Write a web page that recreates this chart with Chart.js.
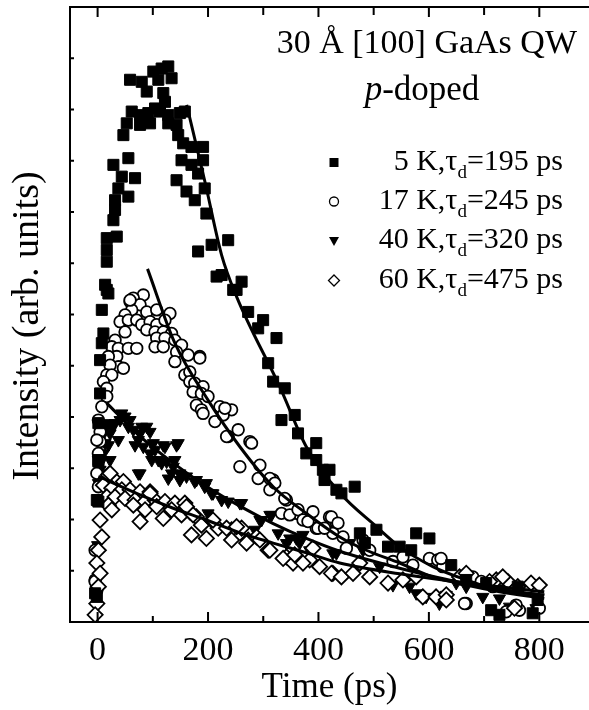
<!DOCTYPE html>
<html>
<head>
<meta charset="utf-8">
<script src="https://cdn.jsdelivr.net/npm/chart.js@4.4.1/dist/chart.umd.min.js"></script>
<style>
  html, body { margin: 0; padding: 0; background: #fff; overflow: hidden; }
  #wrap { position: relative; width: 589px; height: 710px; }
  canvas { display: block; }
</style>
</head>
<body>
<div id="wrap"><canvas id="chart" width="589" height="710"></canvas></div>
<script>
// axis ticks
const xTicks = [0, 200, 400, 600, 800];
const xMinorTicks = [100, 300, 500, 700];
const yTicks = [1, 2, 3, 4, 5, 6, 7, 8, 9, 10, 11];

// 5 K (filled squares)
const t5K = [-4.5, -1.4, -1.4, 1.4, 1.4, 1.4, 1.4, 4.5, 4.5, 7.6,
  10.5, 7.6, 13.6, 19.5, 16.6, 16.6, 16.6, 34.7, 16.6, 28.6,
  31.6, 31.6, 55.7, 37.6, 43.8, 67.8, 28.6, 55.7, 46.7, 52.8,
  76.9, 95, 61.8, 76.9, 91.9, 104, 113, 128, 58.8, 79.9,
  89, 100.9, 116, 128, 134, 110, 119, 122, 149, 158,
  128, 143, 146, 155, 170, 191, 152, 170, 191, 182,
  143, 161, 176, 194, 197, 182, 206.5, 236.5, 215.5, 224.6,
  245.6, 260.8, 251.7, 272.7, 299.8, 290.8, 324, 308.9, 317.9, 339,
  333, 357, 363, 378, 396, 396, 408, 420, 411, 432.5,
  441.6, 465.6, 475, 505, 484, 526, 547, 568, 577, 601,
  640.5, 667.6, 703.8, 712.8, 727.8, 761, 788, 797];
const i5K = [0.56, 0.49, 2.38, 2.35, 3.13, 3.16, 3.88, 4.46, 5.11, 5.44,
  5.63, 6.09, 6.58, 6.41, 6.48, 7.03, 7.26, 7.52, 7.49, 7.84,
  8.04, 8.23, 8.30, 8.46, 8.69, 8.66, 8.92, 9.05, 9.50, 9.73,
  9.70, 9.73, 9.96, 9.89, 9.93, 10.02, 9.96, 9.89, 10.58, 10.54,
  10.35, 10.74, 10.80, 10.84, 10.61, 10.58, 10.32, 10.15, 9.93, 9.96,
  9.73, 9.70, 9.50, 9.34, 9.27, 9.27, 9.01, 8.92, 9.01, 8.75,
  8.62, 8.40, 8.23, 8.46, 7.97, 7.23, 7.36, 7.45, 6.74, 6.77,
  6.48, 6.64, 6.48, 6.05, 5.89, 5.73, 5.54, 5.05, 4.69, 4.56,
  3.94, 4.04, 3.68, 3.29, 3.49, 3.16, 2.97, 2.97, 2.77, 2.58,
  2.51, 2.64, 1.73, 1.80, 1.54, 1.47, 1.47, 1.40, 1.73, 1.63,
  1.11, 0.82, 0.76, 0.23, 0.14, 0.69, 0.17, 0.43];

// 17 K (open circles)
const t17K = [82.8, 64.7, 58.8, 76.9, 61.8, 89, 107, 131, 49.7, 40.7,
  55.7, 70.9, 79.9, 95, 107, 122, 49.7, 89, 104, 119,
  134, 107, 122, 140, 31.6, 25.7, 37.6, 55.7, 70.9, 104,
  119, 152, 143, 34.7, 19.5, 164, 185, 140, 37.6, 46.7,
  22.6, 16.6, 25.7, 158, 167, 10.5, 167, 176, 191, 16.6,
  173, 188, 200, 16.6, 7.6, 179, 188, 221.5, 242.7, 191,
  212.5, 1.4, 227.5, 254.6, 236.5, 275.8, 4.5, 4.5, 58.8, 185,
  230.6, 257.7, 233.6, 278.8, 290.8, 312, 293.9, 318, 342, 360,
  378, 396, 420, 432.5, 426, 312, 321, 339, 333, 348,
  363, 372, 390, 381, 399, 411, 423.5, 435.4, 444.5, 450.6,
  480.7, 492.8, 535, 553, 571, 601, 616, 625, 667.6, 622,
  679.6, 694.8, 664.6, 733.8, 764, 740, 758, 800, 715.7, -1.4,
  -1.4, 1.4, -4.5, -4.5, -1.4, 1.4, -4.5];
const i17K = [6.38, 6.32, 6.25, 6.19, 6.09, 6.05, 6.09, 6.02, 5.99, 5.86,
  5.89, 5.89, 5.80, 5.86, 5.80, 5.89, 5.66, 5.70, 5.66, 5.66,
  5.63, 5.54, 5.54, 5.50, 5.50, 5.37, 5.34, 5.34, 5.34, 5.37,
  5.37, 5.40, 5.27, 5.18, 5.18, 5.21, 5.18, 5.08, 4.98, 4.95,
  5.01, 4.82, 4.82, 4.82, 4.88, 4.69, 4.69, 4.66, 4.59, 4.56,
  4.49, 4.46, 4.40, 4.40, 4.20, 4.23, 4.14, 4.20, 4.14, 4.07,
  3.91, 3.94, 4.04, 3.75, 3.62, 3.52, 3.71, 3.52, 6.28, 5.15,
  4.17, 3.03, 3.62, 3.49, 2.80, 2.58, 3.06, 2.77, 2.38, 2.12,
  1.99, 1.83, 2.05, 1.93, 1.73, 2.80, 2.71, 2.41, 2.12, 2.09,
  2.19, 1.99, 2.15, 1.96, 1.83, 1.83, 2.05, 1.93, 1.66, 1.44,
  1.60, 1.40, 1.18, 1.27, 1.11, 1.24, 1.21, 1.08, 0.36, 1.24,
  0.88, 0.79, 0.36, 0.82, 0.23, 0.20, 0.33, 0.27, 0.69, 3.55,
  2.90, 2.64, 1.40, 0.82, 0.62, 3.29, 0.79];

// 40 K (filled down triangles)
const t40K = [1.4, 7.6, 13.6, 22.6, 10.5, 4.5, 1.4, 7.6, 22.6, 19.5,
  25.7, 13.6, 31.6, 43.8, 40.7, 49.7, 55.7, 58.8, 64.7, 76.9,
  79.9, 89, 95, 73.8, 82.8, 100.9, 122, 143, 95, 110,
  125, 137, 149, 161, 179, 197, 209, 224.6, 236.5, 257.7,
  73.8, 128, 149, 200, 293.9, 312, 284.8, 342, 360, 384,
  426, 119, 146, 19.5, 37.6, 67.8, 104, 98, 116, 140,
  76.9, 134, 152, 176, 194, 206.5, 260.8, 297, 315, 327,
  348, 372, 366, 390, 432.5, 456.6, 480.7, 510.8, 534.9, 565,
  577, 595, 619, 649.5, 667.6, 631.5, 697.6, 727.8, 794, 746,
  -3, -1.4, 0];
const i40K = [3.16, 3.62, 3.49, 3.68, 3.29, 2.97, 2.71, 3.16, 3.16, 3.88,
  3.81, 3.81, 3.88, 4.07, 3.94, 4.01, 3.81, 3.94, 3.75, 3.68,
  3.81, 3.81, 3.71, 3.55, 3.42, 3.49, 3.42, 3.45, 3.29, 3.16,
  3.13, 3.03, 2.90, 2.84, 2.77, 2.71, 2.51, 2.38, 2.35, 2.32,
  2.90, 2.80, 2.77, 2.12, 1.99, 2.09, 1.80, 1.54, 1.63, 1.40,
  1.34, 3.45, 3.49, 3.45, 3.55, 3.45, 3.36, 3.16, 3.10, 3.16,
  2.90, 2.90, 2.84, 2.74, 2.64, 2.51, 2.32, 1.99, 2.09, 1.73,
  1.63, 1.70, 1.54, 1.40, 1.34, 1.54, 1.40, 1.08, 0.72, 0.69,
  0.56, 0.49, 0.36, 0.76, 0.69, 0.53, 0.49, 0.46, 0.27, 0.30,
  0.10, 0.60, 1.50];

// 60 K (open diamonds)
const t60K = [19.5, 31.6, 46.7, 10.5, 25.7, 43.8, 58.8, 76.9, 95, 16.6,
  31.6, 49.7, 67.8, 85.9, 104, 122, 140, 158, 19.5, 25.7,
  64.7, 85.9, 107, 119, 134, 152, 167, 179, 76.9, 188,
  206.5, 170, 197, 218.4, 242.7, 260.8, 242.7, 272.7, 287.9, 308.9,
  4.5, 7.6, 1.4, -1.4, 4.5, 1.4, -1.4, -4.5, 22.6, 95,
  161, 173, 209, 233.6, 251.7, 269.8, 293.9, 312, 342, 354,
  384, 402, 426, 336, 357, 372, 390, 423.5, 441.6, 462.6,
  474.7, 492.8, 526, 553, 577, 589, 613, 631.5, 655.5, 667.6,
  743, 722, 761, 785, 800, 631.5, 755, 709.8, 733.8];
const i60K = [2.87, 2.77, 2.74, 2.67, 2.61, 2.58, 2.58, 2.54, 2.54, 2.44,
  2.44, 2.41, 2.38, 2.35, 2.38, 2.35, 2.32, 2.32, 2.28, 2.19,
  2.28, 2.19, 2.25, 2.02, 2.19, 2.09, 2.15, 2.05, 1.96, 1.89,
  1.99, 1.70, 1.63, 1.83, 1.80, 1.83, 1.60, 1.60, 1.66, 1.40,
  1.99, 1.66, 1.40, 1.15, 0.95, 0.69, 0.36, 0.14, 2.90, 2.51,
  2.25, 2.09, 1.99, 1.83, 1.86, 1.54, 1.60, 1.40, 1.27, 1.15,
  1.21, 1.08, 0.95, 1.24, 1.31, 1.15, 1.44, 0.95, 0.88, 0.95,
  1.15, 0.88, 0.76, 0.82, 0.88, 0.49, 0.49, 0.53, 0.88, 0.95,
  0.79, 0.82, 0.69, 0.76, 0.72, 0.43, 0.27, 0.79, 0.88];

// fitted decay curves
const fitT5K = [161.3, 194.4, 224.6, 251.7, 330, 378, 438.5, 505, 547, 607, 667.6, 728, 809];
const fitI5K = [10.09, 8.59, 7.16, 6.35, 4.59, 3.42, 2.52, 1.86, 1.47, 1.08, 0.82, 0.62, 0.53];
const fitT17K = [90.4, 140, 200, 257.7, 318, 378, 438.5, 486.8, 547, 607, 667.6, 728, 809];
const fitI17K = [6.89, 5.44, 4.33, 3.42, 2.64, 2.12, 1.66, 1.40, 1.15, 0.88, 0.72, 0.59, 0.46];
const fitT40K = [16.6, 76.9, 137, 197, 257.7, 318, 378, 438.5, 547, 667.6, 809];
const fitI40K = [4.27, 3.62, 3.10, 2.65, 2.26, 1.92, 1.63, 1.38, 1.05, 0.75, 0.52];
const fitT60K = [1.4, 76.9, 137, 197, 257.7, 318, 378, 438.5, 547, 667.6, 809];
const fitI60K = [2.84, 2.48, 2.22, 1.99, 1.74, 1.54, 1.35, 1.15, 0.94, 0.76, 0.59];

// legend entries
const legendTemps = ['5 K', '17 K', '40 K', '60 K'];
const legendTau = [195, 245, 320, 475];
const legendStyles = ['rect', 'circle', 'triangle', 'rectRot'];

const FONT = '"Liberation Serif", "Times New Roman", serif';
Chart.defaults.font.family = FONT;
Chart.defaults.color = '#000';

function pts(xs, ys) {
  return xs.map((x, i) => ({ x: x, y: ys[i] }));
}

function fitLine(xs, ys) {
  return {
    type: 'line',
    data: pts(xs, ys),
    showLine: true,
    borderColor: '#000',
    borderWidth: 3,
    pointRadius: 0,
    fill: false,
    cubicInterpolationMode: 'monotone'
  };
}

// little legend marker shapes
function drawMarker(ctx, style, x, y) {
  ctx.beginPath();
  if (style === 'rect') {
    ctx.rect(x - 4.5, y - 4.5, 9, 9);
    ctx.fill();
  } else if (style === 'circle') {
    ctx.arc(x, y, 4.5, 0, Math.PI * 2);
    ctx.stroke();
  } else if (style === 'triangle') {
    ctx.moveTo(x - 5, y - 4);
    ctx.lineTo(x + 5, y - 4);
    ctx.lineTo(x, y + 5);
    ctx.closePath();
    ctx.fill();
  } else {
    ctx.moveTo(x, y - 5.5);
    ctx.lineTo(x + 5.5, y);
    ctx.lineTo(x, y + 5.5);
    ctx.lineTo(x - 5.5, y);
    ctx.closePath();
    ctx.stroke();
  }
}

const framePlugin = {
  id: 'frame',
  afterDraw(chart) {
    const { ctx, chartArea: a, scales: { x, y } } = chart;
    ctx.save();
    ctx.strokeStyle = '#000';
    ctx.fillStyle = '#000';
    ctx.lineWidth = 2;

    // box (left, top, bottom)
    ctx.beginPath();
    ctx.moveTo(a.right, a.top);
    ctx.lineTo(a.left, a.top);
    ctx.lineTo(a.left, a.bottom);
    ctx.lineTo(a.right, a.bottom);
    ctx.stroke();

    // inward ticks
    ctx.beginPath();
    xTicks.forEach(v => {
      const px = x.getPixelForValue(v);
      ctx.moveTo(px, a.bottom); ctx.lineTo(px, a.bottom - 10);
      ctx.moveTo(px, a.top); ctx.lineTo(px, a.top + 10);
    });
    xMinorTicks.forEach(v => {
      const px = x.getPixelForValue(v);
      ctx.moveTo(px, a.bottom); ctx.lineTo(px, a.bottom - 6);
      ctx.moveTo(px, a.top); ctx.lineTo(px, a.top + 8);
    });
    yTicks.forEach(v => {
      const py = y.getPixelForValue(v);
      ctx.moveTo(a.left, py); ctx.lineTo(a.left + 4, py);
    });
    ctx.stroke();

    // y axis title
    ctx.save();
    ctx.translate(28, 326);
    ctx.rotate(-Math.PI / 2);
    ctx.font = '38px ' + FONT;
    ctx.textAlign = 'center';
    ctx.textBaseline = 'middle';
    ctx.fillText('Intensity (arb. units)', 0, 0);
    ctx.restore();

    // sample title
    ctx.font = '34px ' + FONT;
    ctx.textAlign = 'right';
    ctx.textBaseline = 'alphabetic';
    ctx.fillText('30 \u00C5 [100] GaAs QW', 577, 53);

    ctx.textAlign = 'left';
    const pItal = 'italic 35px ' + FONT;
    const pRest = '35px ' + FONT;
    ctx.font = pItal;
    const wp = ctx.measureText('p').width;
    ctx.font = pRest;
    const wr = ctx.measureText('-doped').width;
    const sx = 422 - (wp + wr) / 2;
    ctx.font = pItal;
    ctx.fillText('p', sx, 100);
    ctx.font = pRest;
    ctx.fillText('-doped', sx + wp, 100);

    // legend
    const rowBase = [169.5, 208.5, 248, 287.5];
    const mainFont = '30px ' + FONT;
    const subFont = '19px ' + FONT;
    ctx.lineWidth = 1.3;
    legendTemps.forEach((lab, i) => {
      const yb = rowBase[i];
      drawMarker(ctx, legendStyles[i], 334, yb - 7);
      const s1 = lab + ',\u03C4';
      const s2 = 'd';
      const s3 = '=' + legendTau[i] + ' ps';
      ctx.font = mainFont;
      const w1 = ctx.measureText(s1).width;
      const w3 = ctx.measureText(s3).width;
      ctx.font = subFont;
      const w2 = ctx.measureText(s2).width;
      let cx = 563 - (w1 + w2 + w3);
      ctx.font = mainFont;
      ctx.fillText(s1, cx, yb);
      cx += w1;
      ctx.font = subFont;
      ctx.fillText(s2, cx, yb + 8);
      cx += w2;
      ctx.font = mainFont;
      ctx.fillText(s3, cx, yb);
    });
    ctx.restore();
  }
};

new Chart(document.getElementById('chart').getContext('2d'), {
  type: 'scatter',
  data: {
    datasets: [
      fitLine(fitT5K, fitI5K),
      fitLine(fitT17K, fitI17K),
      fitLine(fitT40K, fitI40K),
      fitLine(fitT60K, fitI60K),
      {
        label: '5 K',
        data: pts(t5K, i5K),
        pointStyle: 'rect',
        pointRadius: 7.8,
        backgroundColor: '#000',
        borderColor: '#000',
        borderWidth: 1
      },
      {
        label: '60 K',
        data: pts(t60K, i60K),
        pointStyle: 'rectRot',
        pointRadius: 7.6,
        backgroundColor: '#fff',
        borderColor: '#000',
        borderWidth: 1.8
      },
      {
        label: '17 K',
        data: pts(t17K, i17K),
        pointStyle: 'circle',
        pointRadius: 5.8,
        backgroundColor: '#fff',
        borderColor: '#000',
        borderWidth: 1.8
      },
      {
        label: '40 K',
        data: pts(t40K, i40K),
        pointStyle: 'triangle',
        pointRotation: 180,
        pointRadius: 7,
        backgroundColor: '#000',
        borderColor: '#000',
        borderWidth: 1
      }
    ]
  },
  options: {
    responsive: false,
    animation: false,
    devicePixelRatio: 1,
    layout: { autoPadding: false, padding: { top: 7, right: 0, bottom: 0, left: 0 } },
    plugins: {
      legend: { display: false },
      tooltip: { enabled: false }
    },
    scales: {
      x: {
        type: 'linear',
        min: -50,
        max: 890,
        afterBuildTicks: s => { s.ticks = xTicks.map(v => ({ value: v })); },
        afterFit: s => { s.height = 88; s.paddingLeft = 0; s.paddingRight = 0; },
        grid: { display: false, drawTicks: false },
        border: { display: false },
        ticks: { color: '#000', font: { size: 34 }, padding: 9, maxRotation: 0, autoSkip: false },
        title: { display: true, text: 'Time (ps)', color: '#000', font: { size: 35 }, padding: { top: 0, bottom: 1 } }
      },
      y: {
        type: 'linear',
        min: 0,
        max: 12,
        afterFit: s => { s.width = 70; s.paddingTop = 0; s.paddingBottom = 0; },
        grid: { display: false, drawTicks: false },
        border: { display: false },
        ticks: { display: false }
      }
    }
  },
  plugins: [framePlugin]
});
</script>
</body>
</html>
